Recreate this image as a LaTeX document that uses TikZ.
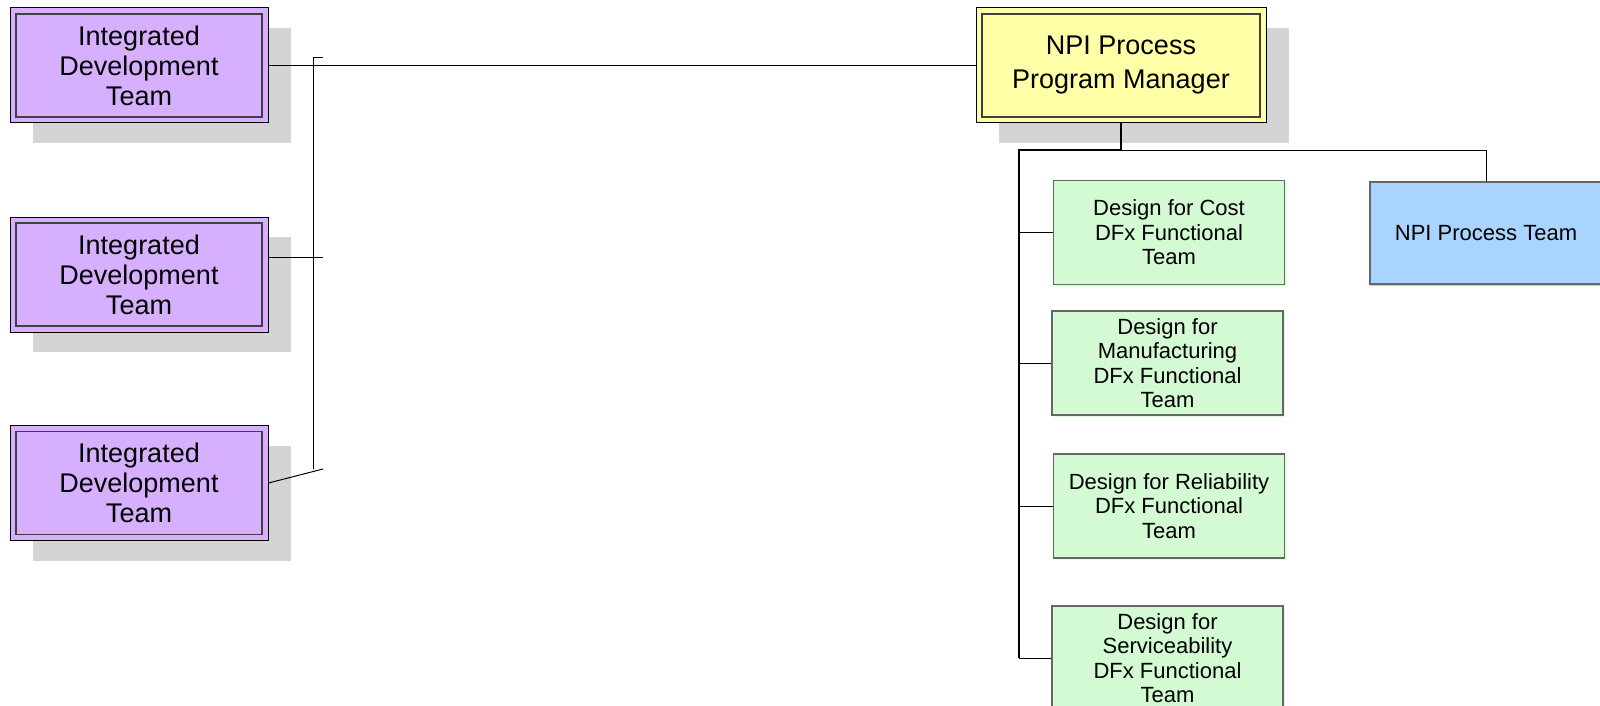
\documentclass[tikz,border=0pt]{standalone}
\usepackage{fontspec}
\setmainfont{Liberation Sans}
\usetikzlibrary{shadows}

\definecolor{idtpurple}{RGB}{214,176,255}
\definecolor{mgryellow}{RGB}{255,255,168}
\definecolor{dfxgreen}{RGB}{212,250,212}
\definecolor{npiblue}{RGB}{168,212,255}
\definecolor{shadowgray}{RGB}{212,212,212}

\begin{document}
\begin{tikzpicture}[x=1pt, y=-1pt,
  box/.style={rectangle, inner sep=0pt, align=center},
  framed/.style={path picture={\draw[line width=1.6pt, black!75]
      ([xshift=6pt,yshift=-6pt]path picture bounding box.north west) rectangle
      ([xshift=-6pt,yshift=6pt]path picture bounding box.south east);}},
  bigshadow/.style={drop shadow={shadow xshift=23pt, shadow yshift=-20pt, fill=shadowgray, opacity=1}},
  idt/.style={box, framed, bigshadow, draw=black, line width=1pt, fill=idtpurple,
    minimum width=258pt, minimum height=115pt, font=\fontsize{27}{30}\selectfont},
  mgr/.style={box, framed, bigshadow, draw=black, line width=1pt, fill=mgryellow,
    minimum width=290pt, minimum height=115pt, font=\fontsize{27}{34}\selectfont},
  dfx/.style={box, draw=black!60, line width=1.2pt, fill=dfxgreen,
    drop shadow={shadow xshift=2pt, shadow yshift=-2pt, fill=dfxgreen!70, opacity=1},
    minimum width=231pt, minimum height=104pt, font=\fontsize{22}{24.5}\selectfont},
  npi/.style={dfx, fill=npiblue, drop shadow={shadow xshift=0pt, shadow yshift=-2pt, fill=npiblue, opacity=1}},
  link/.style={line width=1pt},
  trunk/.style={line width=1.6pt}]
  \useasboundingbox (0,0) rectangle (1600,706);
  \clip (0,0) rectangle (1600,706);

  % integrated development teams on the left
  \node[idt] (idt1) at (139,65.5) {Integrated\\Development\\Team};
  \node[idt] (idt2) at (139,274.5) {Integrated\\Development\\Team};
  \node[idt] (idt3) at (139,483) {Integrated\\Development\\Team};

  % program manager and its teams
  \node[mgr] (mgr) at (1121,65.5) {NPI Process\\Program Manager};
  \node[dfx] (cost) at (1169,232.5) {Design for Cost\\DFx Functional\\Team};
  \node[dfx] (manuf) at (1167.5,363) {Design for\\Manufacturing\\DFx Functional\\Team};
  \node[dfx] (reliab) at (1169,506) {Design for Reliability\\DFx Functional\\Team};
  \node[dfx] (serv) at (1167.5,658) {Design for\\Serviceability\\DFx Functional\\Team};
  \node[npi, minimum width=232pt, minimum height=102pt] (npiteam) at (1486,233) {NPI Process Team};

  % bracket joining the left teams
  \coordinate (j1) at (323,58);
  \coordinate (j2) at (323,257);
  \coordinate (j3) at (323,469);
  \draw[link] (j1) -- ++(-10,0) -- ([xshift=-10pt]j3);
  \draw[link] ([yshift=17.5pt]idt2.east) -- (j2);
  \draw[link] (idt3.east) -- (j3);
  \draw[link] (idt1.east) -- (mgr.west);

  % org tree under the manager
  \coordinate (hub) at (1019,150);
  \draw[trunk] (mgr.south) |- (hub) -- (hub |- serv.west);
  \draw[link] (mgr.south |- hub) -| (npiteam.north);
  \foreach \t in {cost,manuf,reliab,serv}
    \draw[link] (hub |- \t.west) -- (\t.west);
\end{tikzpicture}
\end{document}
